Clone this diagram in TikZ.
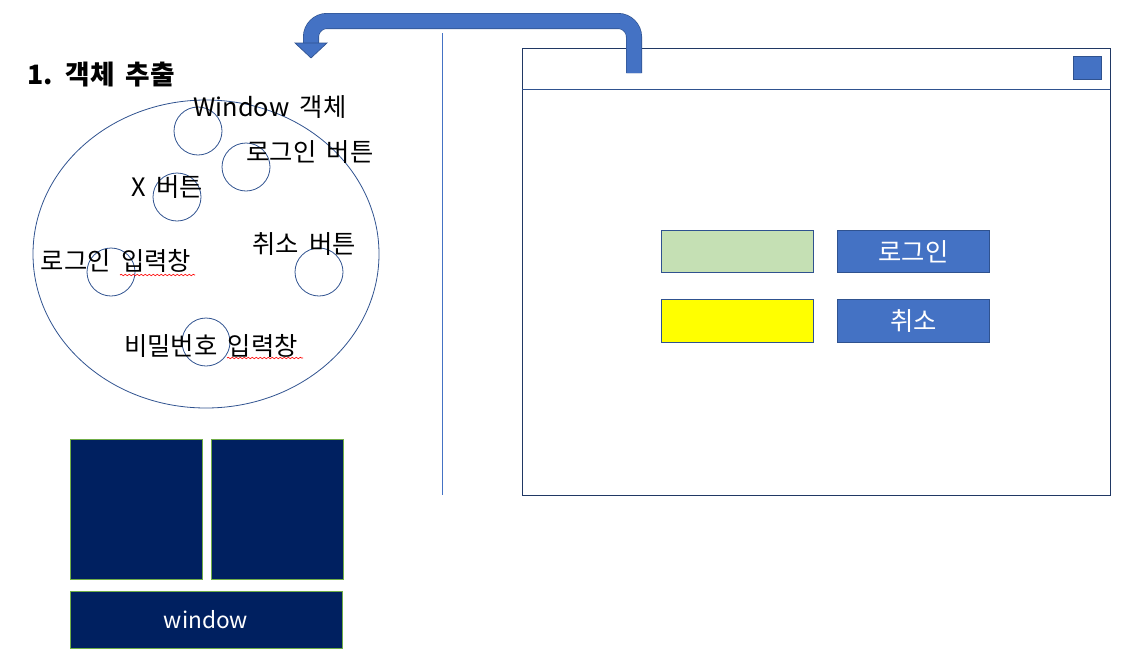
\documentclass[tikz,border=0pt]{standalone}
\usepackage{fontspec}
\setmainfont{Noto Sans CJK KR}[WordSpace=1.8]
\usetikzlibrary{decorations.pathmorphing}
\definecolor{accent}{HTML}{4472C4}
\definecolor{accentdk}{HTML}{2F528F}
\definecolor{navy}{HTML}{002060}
\definecolor{frame}{HTML}{203864}
\definecolor{leaf}{HTML}{70AD47}
\definecolor{pale}{HTML}{C5E0B4}
\definecolor{hilite}{RGB}{255,255,0}
\begin{document}
\begin{tikzpicture}[x=0.75pt,y=-0.75pt,
		lbl/.style={inner sep=0pt, font=\fontsize{19}{22}\selectfont},
		obj/.style={circle, draw=accentdk, line width=0.6pt, minimum size=36pt, inner sep=0pt},
		field/.style={draw=accentdk, line width=0.75pt, minimum width=114pt, minimum height=32pt, inner sep=0pt},
		btn/.style={field, fill=accent, text=white, font=\fontsize{19}{22}\selectfont},
		block/.style={fill=navy, draw=leaf, line width=0.75pt, inner sep=0pt},
		squiggle/.style={red, line width=0.5pt, decorate, decoration={snake, amplitude=0.5pt, segment length=3pt}}]
		\useasboundingbox (0,0) rectangle (1130,668);
		\begin{scope}
			\node[inner sep=0pt, anchor=west, font=\bfseries\fontsize{20}{24}\selectfont] (title) at (27,75) {1. 객체 추출};
			\draw[accentdk, line width=0.6pt] (206,254) ellipse [x radius=129.75pt, y radius=115.5pt];
			\node[obj] (cwin) at (198,131) {};
			\node[obj] (clogin) at (246,167) {};
			\node[obj] (cx) at (177,197) {};
			\node[obj] (cid) at (111,272) {};
			\node[obj] (ccancel) at (319,272) {};
			\node[obj] (cpw) at (206,342) {};
			\node[lbl] (twin) at (270,107) {Window 객체};
			\node[lbl] (tlogin) at (310,152) {로그인 버튼};
			\node[lbl] (tx) at (167,187) {X 버튼};
			\node[lbl] (tid) at (116,261) {로그인 입력창};
			\node[lbl] (tcancel) at (304,244) {취소 버튼};
			\node[lbl] (tpw) at (211,346) {비밀번호 입력창};
			\draw[squiggle] (120,275) -- (195,275);
			\draw[squiggle] (227,358) -- (303,358);
		\end{scope}
		\begin{scope}
			\node[block, minimum width=99pt, minimum height=105pt] (blk1) at (136,509) {};
			\node[block, minimum width=99pt, minimum height=105pt] (blk2) at (277,509) {};
			\node[block, minimum width=204pt, minimum height=42.75pt, text=white, font=\fontsize{17}{20}\selectfont] (blk3) at (206,619.5) {window};
		\end{scope}
		\draw[accent, line width=0.75pt] (442,33) -- (442,495);
		\begin{scope}
			\draw[frame, line width=0.75pt] (522,48) rectangle (1110,495);
			\draw[accentdk, line width=0.6pt] (522,89) -- (1110,89);
			\node[fill=accent, draw=accentdk, line width=0.75pt, minimum width=21pt, minimum height=17.25pt, inner sep=0pt] (close) at (1087,67.5) {};
			\node[field, fill=pale] (idbox) at (737,251.5) {};
			\node[field, fill=hilite] (pwbox) at (737,321) {};
			\node[btn] (loginbtn) at (913.5,251.5) {로그인};
			\node[btn] (cancelbtn) at (913.5,321) {취소};
		\end{scope}
		\draw[accentdk, double=accent, double distance=11pt, line width=0.5pt, rounded corners=12pt] (634,73) -- (634,21) -- (311,21) -- (311,44);
		\draw[accentdk, fill=accent, line width=0.5pt] (295,43) -- (327,43) -- (311,58) -- cycle;
	\end{tikzpicture}
\end{document}
